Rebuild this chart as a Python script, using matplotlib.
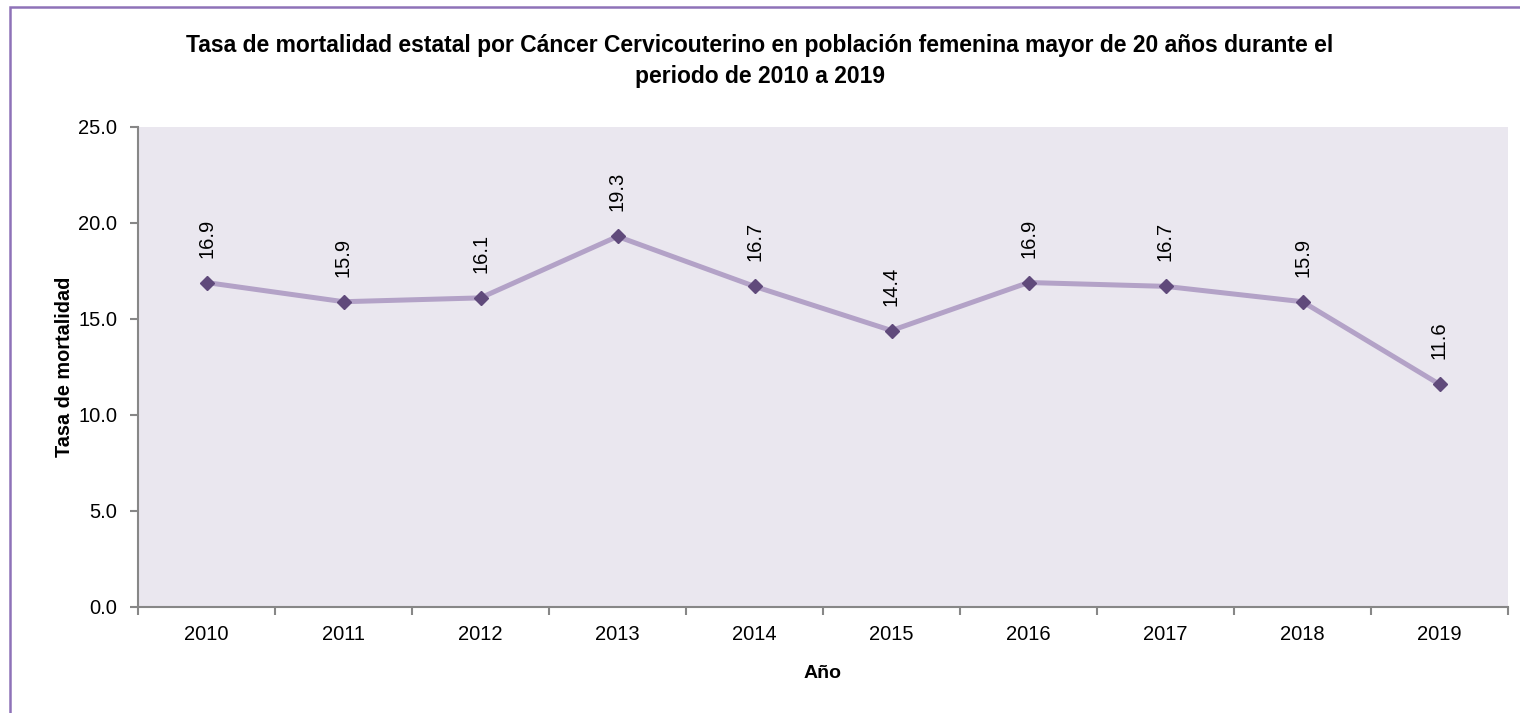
import matplotlib.pyplot as plt
import matplotlib.patches as patches
import numpy as np

plt.rcParams['font.family'] = ['Liberation Sans', 'DejaVu Sans']

years = ['2010', '2011', '2012', '2013', '2014', '2015', '2016', '2017', '2018', '2019']
tasa = [16.9, 15.9, 16.1, 19.3, 16.7, 14.4, 16.9, 16.7, 15.9, 11.6]
yticks = [0.0, 5.0, 10.0, 15.0, 20.0, 25.0]

fig = plt.figure(figsize=(15.2, 7.13), dpi=100)
ax = fig.add_axes([138/1520, 1 - 607/713, 1370/1520, 480/713])

# purple frame (left and top edges visible)
fig.patches.append(patches.Rectangle((9.5/1520, -0.1), 1.2, 1 - 7/713 + 0.1,
                                     transform=fig.transFigure, fill=False,
                                     edgecolor='#8E72B8', linewidth=1.8))

x = np.arange(len(years))
ax.set_facecolor('#EAE7EF')
ax.plot(x, tasa, color='#B3A2C7', linewidth=3.6, marker='D', markersize=7.5,
        markerfacecolor='#604A7B', markeredgecolor='#604A7B', zorder=3)
for xi, v in zip(x, tasa):
    ax.annotate(f'{v:.1f}', (xi, v), xytext=(0, 18), textcoords='offset points',
                rotation=90, ha='center', va='bottom', fontsize=14.5)

ax.set_xlim(-0.5, len(years) - 0.5)
ax.set_ylim(0, 25)
ax.set_yticks(yticks)
ax.set_yticklabels([f'{t:.1f}' for t in yticks], fontsize=14.5)
ax.set_xticks(x)
ax.set_xticklabels(years, fontsize=14.5)
ax.set_xticks(np.arange(-0.5, len(years)), minor=True)
ax.tick_params(axis='x', which='major', length=0, pad=13)
ax.tick_params(axis='x', which='minor', length=6, color='#878787', width=1.5)
ax.tick_params(axis='y', length=6, color='#878787', width=1.5, pad=9)

for s in ['top', 'right']:
    ax.spines[s].set_visible(False)
for s in ['left', 'bottom']:
    ax.spines[s].set_color('#878787')
    ax.spines[s].set_linewidth(1.5)

ax.set_xlabel('Año', fontsize=14, fontweight='bold', labelpad=15)
ax.set_ylabel('Tasa de mortalidad', fontsize=14.3, fontweight='bold', labelpad=3)
fig.text(0.5, 1 - 61/713,
         'Tasa de mortalidad estatal por Cáncer Cervicouterino en población femenina mayor de 20 años durante el\nperiodo de 2010 a 2019',
         ha='center', va='center', fontsize=16.5, fontweight='bold', linespacing=1.4)

fig.savefig('out.png', dpi=100)
